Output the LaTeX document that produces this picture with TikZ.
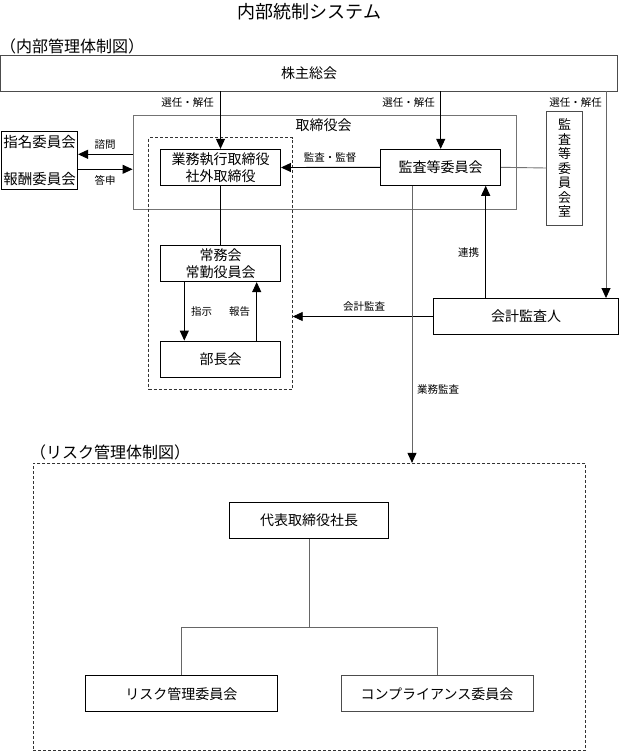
\documentclass[tikz,border=0pt]{standalone}
\usepackage{fontspec}
\setmainfont{Noto Sans CJK JP}
\usetikzlibrary{arrows.meta}
\begin{document}
\begin{tikzpicture}[x=1pt,y=-1pt,
  box/.style={draw=black, line width=0.9pt, inner sep=0pt, align=center, font=\fontsize{14}{17}\selectfont},
  lbl/.style={inner sep=0pt, font=\fontsize{10.5}{12}\selectfont},
  ln/.style={line width=0.9pt},
  arr/.style={line width=0.9pt, -{Triangle[length=10pt,width=9pt,color=black]}},
  dashbox/.style={draw=black!80, line width=0.8pt, dash pattern=on 3pt off 2pt, inner sep=0pt}]
\useasboundingbox (0,0) rectangle (619,752);
% titles
\node[inner sep=0pt, font=\fontsize{18}{20}\selectfont] (title) at (309.5,12) {内部統制システム};
\node[inner sep=0pt, anchor=west, font=\fontsize{16}{18}\selectfont] (sec1) at (0,46) {（内部管理体制図）};
\node[inner sep=0pt, anchor=west, font=\fontsize{16}{18}\selectfont] (sec2) at (30,452) {（リスク管理体制図）};
% boxes
\node[box, draw=black!70, minimum width=617pt, minimum height=36pt] (soukai) at (309,73) {株主総会};
\node[box, draw=black!55, minimum width=383pt, minimum height=94pt] (tori) at (324.5,162) {};
\node[inner sep=0pt, font=\fontsize{14}{16}\selectfont] (toril) at (323.5,125) {取締役会};
\node[dashbox, minimum width=143.8pt, minimum height=251.6pt] (naibu) at (220.4,263.5) {};
\node[box, minimum width=120pt, minimum height=36.4pt] (gyomu) at (220.5,167.5) {業務執行取締役\\社外取締役};
\node[box, minimum width=120pt, minimum height=36pt] (kansa) at (440.7,167.3) {監査等委員会};
\node[box, draw=black!70, minimum width=36pt, minimum height=114pt, font=\fontsize{13}{14.5}\selectfont] (shitsu) at (564.7,168) {監\\査\\等\\委\\員\\会\\室};
\node[box, minimum width=76pt, minimum height=58pt, font=\fontsize{14.5}{37}\selectfont] (shimei) at (39.6,160.8) {指名委員会\\報酬委員会};
\node[box, minimum width=120.4pt, minimum height=36.7pt] (joumu) at (220.5,263.3) {常務会\\常勤役員会};
\node[box, minimum width=120.4pt, minimum height=36.3pt] (buchou) at (220.5,359.2) {部長会};
\node[box, minimum width=184.6pt, minimum height=36pt] (kaikei) at (526,316.5) {会計監査人};
% risk
\node[dashbox, minimum width=552.4pt, minimum height=287.2pt] (riskarea) at (309.5,606.9) {};
\node[box, minimum width=159.3pt, minimum height=36pt] (daihyo) at (309,520.3) {代表取締役社長};
\node[box, minimum width=192pt, minimum height=36pt] (risk) at (181.3,693.7) {リスク管理委員会};
\node[box, draw=black!70, minimum width=192pt, minimum height=36pt] (comp) at (437,693.7) {コンプライアンス委員会};
% helper coordinates
\coordinate (c606) at (606,0);
\coordinate (c486) at (485.7,0);
\coordinate (c412) at (412,0);
\coordinate (c184) at (184.3,0);
\coordinate (c257) at (256.7,0);
\coordinate (yshi) at (0,154.3);
\coordinate (yto) at (0,169.3);
\coordinate (bar) at (309,627.7);
% connectors
\draw[arr] (soukai.south -| gyomu.north) -- (gyomu.north);
\draw[arr] (soukai.south -| kansa.north) -- (kansa.north);
\draw[arr, draw=black!60] (soukai.south -| c606) -- (kaikei.north -| c606);
\node[lbl, anchor=east] (l1) at (214,103) {選任・解任};
\node[lbl, anchor=east] (l2) at (435,103) {選任・解任};
\node[lbl, anchor=east] (l3) at (602,103) {選任・解任};
\draw[arr] (tori.west |- yshi) -- (shimei.east |- yshi);
\draw[arr] (shimei.east |- yto) -- (tori.west |- yto);
\node[lbl] (l4) at (105,145) {諮問};
\node[lbl] (l5) at (105,180) {答申};
\draw[arr] (kansa.west) -- (gyomu.east);
\node[lbl] (l6) at (330,158) {監査・監督};
\draw[ln, draw=black!55] (kansa.east) -- (shitsu.west);
\draw[ln] (gyomu.south) -- (joumu.north);
\draw[arr] (joumu.south -| c184) -- (buchou.north -| c184);
\draw[arr] (buchou.north -| c257) -- (joumu.south -| c257);
\node[lbl] (l7) at (201.5,311.7) {指示};
\node[lbl] (l8) at (239.5,311.7) {報告};
\draw[arr] (kaikei.west) -- (kaikei.west -| naibu.east);
\node[lbl] (l9) at (364,307) {会計監査};
\draw[arr] (kaikei.north -| c486) -- (kansa.south -| c486);
\node[lbl] (l10) at (468.5,253) {連携};
\draw[arr, draw=black!60] (kansa.south -| c412) -- (riskarea.north -| c412);
\node[lbl, anchor=west] (l11) at (417,390) {業務監査};
\draw[ln, draw=black!60] (daihyo.south) -- (bar);
\draw[ln, draw=black!60] (risk.north) |- (bar) -| (comp.north);
\end{tikzpicture}
\end{document}
